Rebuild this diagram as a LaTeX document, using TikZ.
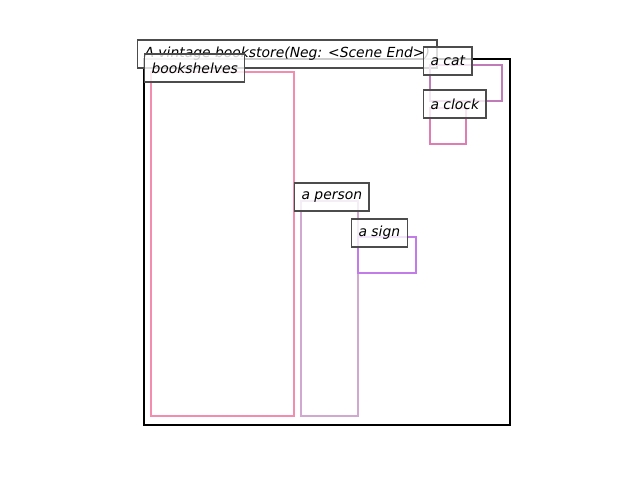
\documentclass[tikz,border=0pt]{standalone}
\usepackage{fontspec}
\setmainfont{DejaVu Sans}
\definecolor{shelfpink}{HTML}{F48CB0}
\definecolor{personlav}{HTML}{D0A8D0}
\definecolor{signpurple}{HTML}{C27BE8}
\definecolor{catmauve}{HTML}{C07CB8}
\definecolor{clockpink}{HTML}{E07CB4}
\tikzset{lbl/.style={anchor=west,draw=black!70,fill=white,fill opacity=0.8,text opacity=1,
  line width=0.9pt,inner xsep=5pt,inner ysep=0pt,minimum height=20.16pt,font=\itshape}}
\begin{document}
\begin{tikzpicture}[x=0.72pt,y=-0.72pt]
\useasboundingbox (0,0) rectangle (640,480);
% scene frame
\draw[line width=1.8pt] (144,59) rectangle (510,425);
\node[lbl] (scene) at (137,54) {A vintage bookstore(Neg: <Scene End>)};
% objects
\draw[shelfpink, line width=1.8pt] (151,72) rectangle (294,416);
\node[lbl] (shelves) at (144,68) {bookshelves};
\draw[personlav, line width=1.8pt] (301,201) rectangle (358,416);
\node[lbl] (person) at (294,197) {a person};
\draw[signpurple, line width=1.8pt] (358,237) rectangle (416,273);
\node[lbl] (sign) at (351,233) {a sign};
\draw[catmauve, line width=1.8pt] (430,65) rectangle (502,101);
\node[lbl] (cat) at (423,61) {a cat};
\draw[clockpink, line width=1.8pt] (430,108) rectangle (466,144);
\node[lbl] (clock) at (423,104) {a clock};
\end{tikzpicture}
\end{document}
